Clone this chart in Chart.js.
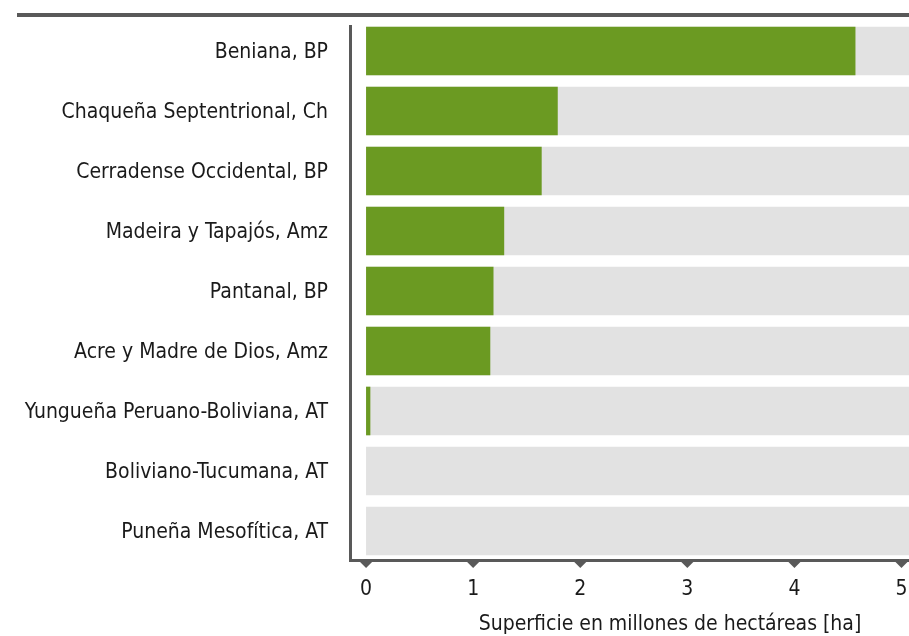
<!DOCTYPE html>
<html>
<head>
<meta charset="utf-8">
<script src="https://cdn.jsdelivr.net/npm/chart.js@4"></script>
<style>
html,body{margin:0;padding:0;background:#fff;}
#wrap{width:909px;height:636px;position:relative;}
</style>
</head>
<body>
<div id="wrap"><canvas id="c" width="909" height="636"></canvas></div>
<script>
const categories = [
  "Beniana, BP",
  "Chaqueña Septentrional, Ch",
  "Cerradense Occidental, BP",
  "Madeira y Tapajós, Amz",
  "Pantanal, BP",
  "Acre y Madre de Dios, Amz",
  "Yungueña Peruano-Boliviana, AT",
  "Boliviano-Tucumana, AT",
  "Puneña Mesofítica, AT"
];
const superficie = [4.57, 1.79, 1.64, 1.29, 1.19, 1.16, 0.04, 0, 0];
const fondo = [5.07, 5.07, 5.07, 5.07, 5.07, 5.07, 5.07, 5.07, 5.07];
const xTicks = [0, 1, 2, 3, 4, 5];
const axisTitle = "Superficie en millones de hectáreas [ha]";

const FONT = "'Liberation Sans Narrow', 'DejaVu Sans Condensed', sans-serif";
const AXIS = '#595959';
const TEXT = '#1a1a1a';

const decor = {
  id: 'decor',
  afterDraw(chart) {
    const ctx = chart.ctx;
    const a = chart.chartArea;
    const xs = chart.scales.x;
    ctx.save();
    ctx.fillStyle = AXIS;
    ctx.fillRect(17, 13, 909 - 17, 4);
    ctx.fillRect(a.left - 1, 25, 3, a.bottom - 25);
    ctx.fillRect(a.left - 1, a.bottom - 2, a.right - a.left + 1, 3);
    xTicks.forEach(v => {
      const px = xs.getPixelForValue(v);
      ctx.beginPath();
      ctx.moveTo(px - 6, a.bottom + 1);
      ctx.lineTo(px + 6, a.bottom + 1);
      ctx.lineTo(px, a.bottom + 7);
      ctx.closePath();
      ctx.fill();
    });
    ctx.fillStyle = TEXT;
    ctx.font = "21px " + FONT;
    ctx.textAlign = 'center';
    ctx.textBaseline = 'middle';
    ctx.fillText(axisTitle, 670, 625);
    ctx.restore();
  }
};

new Chart(document.getElementById('c'), {
  type: 'bar',
  data: {
    labels: categories,
    datasets: [
      { data: superficie, backgroundColor: '#6B9A22', grouped: false, barPercentage: 0.81, categoryPercentage: 1 },
      { data: fondo, backgroundColor: '#E2E2E2', grouped: false, barPercentage: 0.81, categoryPercentage: 1 }
    ]
  },
  options: {
    indexAxis: 'y',
    responsive: false,
    animation: false,
    layout: { padding: { top: 21, right: 0, left: 0, bottom: 0 } },
    plugins: { legend: { display: false }, tooltip: { enabled: false } },
    scales: {
      x: {
        min: -0.15, max: 5.07,
        afterBuildTicks: s => { s.ticks = xTicks.map(v => ({ value: v })); },
        afterFit: s => { s.height = 636 - 21 - 540; s.paddingLeft = 0; s.paddingRight = 0; },
        grid: { display: false },
        border: { display: false },
        ticks: { color: TEXT, font: { family: FONT, size: 21 }, padding: 8, maxRotation: 0 }
      },
      y: {
        afterFit: s => { s.width = 350; s.paddingTop = 0; s.paddingBottom = 0; },
        grid: { display: false, drawTicks: false },
        border: { display: false },
        ticks: { color: TEXT, font: { family: FONT, size: 21 }, padding: 22, labelOffset: 2 }
      }
    }
  },
  plugins: [decor]
});
</script>
</body>
</html>
